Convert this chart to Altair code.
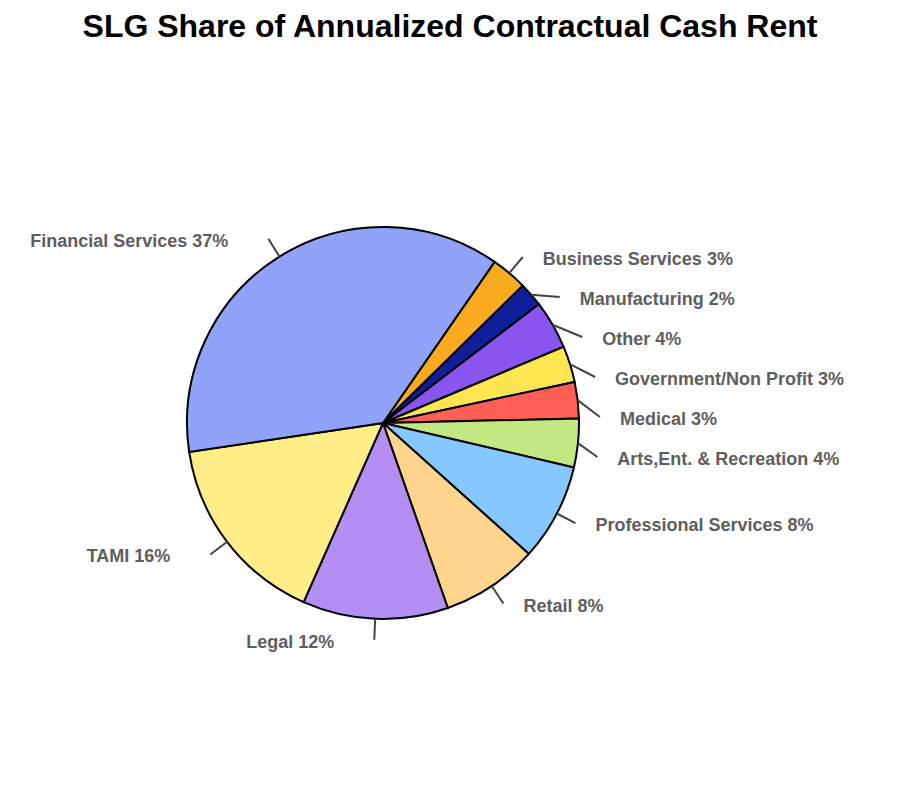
import math
import altair as alt
import pandas as pd

# ---- data (clockwise from 12 o'clock side, starting with Business Services) ----
categories = [
    "Business Services", "Manufacturing", "Other", "Government/Non Profit",
    "Medical", "Arts,Ent. & Recreation", "Professional Services", "Retail",
    "Legal", "TAMI", "Financial Services",
]
values = [3, 2, 4, 3, 3, 4, 8, 8, 12, 16, 37]
colors = [
    "#F9AA1E", "#0F1F9A", "#8A55EE", "#FFE550", "#FF5F55", "#C2E883",
    "#84C8FF", "#FFD48C", "#B48EF2", "#FFED88", "#90A3F8",
]

# ---- layout ----
W, H = 884, 734           # plot area
CX, CY = 375, 365         # pie centre inside plot area (pixels)
R = 196                   # pie radius
RL = 217                  # leader end radius
GAP = 40                  # minimum vertical spacing of labels
START = math.radians(34.7)

total = sum(values)
rows = []
cum = 0
for i, (c, v) in enumerate(zip(categories, values)):
    mid = START + (cum + v / 2) / total * 2 * math.pi
    cum += v
    rows.append(dict(idx=i, category=c, value=v, mid=mid, label=f"{c} {v}%",
                     side="right" if math.sin(mid) > 0 else "left",
                     y1=RL * math.cos(mid)))

for side in ("right", "left"):
    grp = sorted([r for r in rows if r["side"] == side], key=lambda r: -r["y1"])
    prev = None
    for r in grp:
        if prev is not None and r["y1"] > prev - GAP:
            r["y1"] = prev - GAP
        prev = r["y1"]

for r in rows:
    sgn = 1 if r["side"] == "right" else -1
    r["x0"] = R * math.sin(r["mid"])
    r["y0"] = R * math.cos(r["mid"])
    r["x1"] = sgn * math.sqrt(max(RL ** 2 - r["y1"] ** 2, 0))
    r["tx"] = r["x1"] + (20 if sgn > 0 else -40)
    r["ty"] = r["y1"] - 3

df = pd.DataFrame(rows)

xs = alt.Scale(domain=[-CX, W - CX], nice=False, zero=False)
ys = alt.Scale(domain=[-(H - CY), CY], nice=False, zero=False)

pie = alt.Chart(df).mark_arc(outerRadius=R, stroke="black", strokeWidth=2).encode(
    theta=alt.Theta("value:Q", stack=True,
                    scale=alt.Scale(range=[START, START + 2 * math.pi])),
    color=alt.Color("category:N", scale=alt.Scale(domain=categories, range=colors),
                    legend=None),
    order=alt.Order("idx:Q"),
    x=alt.value(CX),
    y=alt.value(CY),
)

leaders = alt.Chart(df).mark_rule(color="#444444", strokeWidth=2).encode(
    x=alt.X("x0:Q", scale=xs, axis=None),
    y=alt.Y("y0:Q", scale=ys, axis=None),
    x2="x1:Q",
    y2="y1:Q",
)

text_style = dict(baseline="middle", font="Liberation Sans", fontSize=18,
                  fontWeight="bold", color="#5E5E5E")

labels_r = alt.Chart(df).transform_filter(alt.datum.side == "right").mark_text(
    align="left", **text_style).encode(
    x=alt.X("tx:Q", scale=xs, axis=None),
    y=alt.Y("ty:Q", scale=ys, axis=None),
    text="label:N",
)
labels_l = alt.Chart(df).transform_filter(alt.datum.side == "left").mark_text(
    align="right", **text_style).encode(
    x=alt.X("tx:Q", scale=xs, axis=None),
    y=alt.Y("ty:Q", scale=ys, axis=None),
    text="label:N",
)

chart = alt.layer(pie, leaders, labels_r, labels_l).properties(
    width=W,
    height=H,
    autosize="none",
    padding={"left": 0, "top": 50, "right": 0, "bottom": 0},
    title=alt.TitleParams(
        "SLG Share of Annualized Contractual Cash Rent",
        font="Liberation Sans", fontSize=32, fontWeight="bold", color="black",
        anchor="middle", offset=14,
    ),
).configure_view(stroke=None)

chart.save("out.html", embed_options={"renderer": "svg", "actions": False})
